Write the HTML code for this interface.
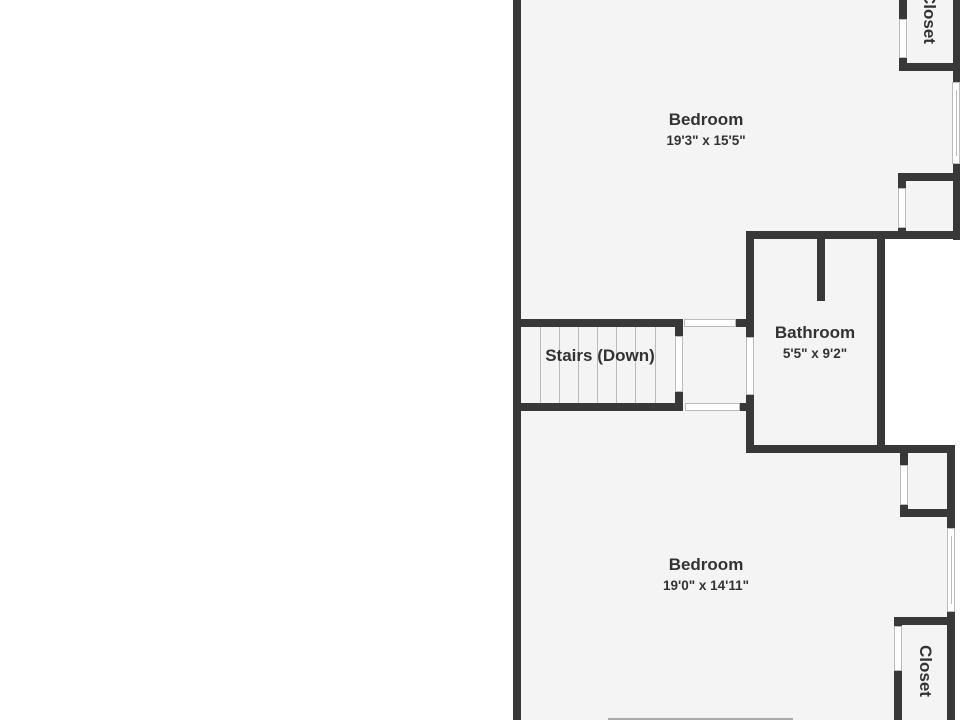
<!DOCTYPE html>
<html><head><style>
html,body{margin:0;padding:0;width:960px;height:720px;overflow:hidden;background:#fff;position:relative}
div{position:absolute;box-sizing:border-box}
.w{background:#383838}
.f{background:#f4f4f4}
.o{background:#fff;border:1px solid #bbb}
.t{font-family:"Liberation Sans",sans-serif;color:#333;text-align:center;white-space:nowrap}
.n{font-weight:bold;font-size:17px}
.d{font-weight:bold;font-size:13.5px}
.l{background:#bbb;width:1px}
</style></head><body>
<div class="f" style="left:521px;top:0;width:434px;height:720px"></div>
<div style="left:885px;top:239px;width:75px;height:206px;background:#fff"></div>
<div style="left:955px;top:445px;width:5px;height:275px;background:#fff"></div>

<div class="w" style="left:513px;top:0;width:8px;height:720px"></div>

<div class="w" style="left:899px;top:0;width:8px;height:71px"></div>
<div class="o" style="left:899px;top:19px;width:8px;height:39px"></div>
<div class="w" style="left:899px;top:63px;width:61px;height:8px"></div>
<div class="w" style="left:953px;top:0;width:7px;height:240px"></div>
<div class="o" style="left:952px;top:82px;width:8px;height:82px"></div>
<div class="l" style="left:956px;top:90px;height:66px"></div>
<div class="w" style="left:898px;top:173px;width:62px;height:8px"></div>
<div class="w" style="left:898px;top:173px;width:8px;height:66px"></div>
<div class="o" style="left:898px;top:188px;width:8px;height:40px"></div>
<div class="w" style="left:746px;top:231px;width:214px;height:8px"></div>

<div class="w" style="left:746px;top:231px;width:8px;height:222px"></div>
<div class="o" style="left:746px;top:337px;width:8px;height:58px"></div>
<div class="w" style="left:877px;top:231px;width:8px;height:222px"></div>
<div class="w" style="left:746px;top:445px;width:209px;height:8px"></div>
<div class="w" style="left:817px;top:239px;width:8px;height:62px"></div>

<div class="w" style="left:513px;top:319px;width:170px;height:8px"></div>
<div class="w" style="left:513px;top:403px;width:170px;height:8px"></div>
<div class="w" style="left:675px;top:319px;width:8px;height:92px"></div>
<div class="o" style="left:675px;top:336px;width:8px;height:56px"></div>
<div class="l" style="left:540px;top:327px;height:76px"></div>
<div class="l" style="left:559px;top:327px;height:76px"></div>
<div class="l" style="left:578px;top:327px;height:76px"></div>
<div class="l" style="left:597px;top:327px;height:76px"></div>
<div class="l" style="left:616px;top:327px;height:76px"></div>
<div class="l" style="left:635px;top:327px;height:76px"></div>
<div class="l" style="left:655px;top:327px;height:76px"></div>
<div class="o" style="left:684px;top:319px;width:52px;height:8px"></div>
<div class="w" style="left:736px;top:319px;width:18px;height:8px"></div>
<div class="o" style="left:685px;top:403px;width:55px;height:8px"></div>
<div class="w" style="left:740px;top:403px;width:14px;height:8px"></div>

<div class="w" style="left:900px;top:445px;width:8px;height:72px"></div>
<div class="o" style="left:900px;top:465px;width:8px;height:40px"></div>
<div class="w" style="left:900px;top:509px;width:55px;height:8px"></div>
<div class="w" style="left:947px;top:445px;width:8px;height:275px"></div>
<div class="o" style="left:947px;top:528px;width:8px;height:84px"></div>
<div class="l" style="left:951px;top:536px;height:68px"></div>
<div class="w" style="left:894px;top:617px;width:61px;height:8px"></div>
<div class="w" style="left:894px;top:617px;width:8px;height:103px"></div>
<div class="o" style="left:894px;top:626px;width:8px;height:45px"></div>
<div style="left:608px;top:718px;width:185px;height:2px;background:#aaa"></div>

<div class="t n" style="left:606px;top:110px;width:200px">Bedroom</div>
<div class="t d" style="left:606px;top:133px;width:200px">19'3" x 15'5"</div>
<div class="t n" style="left:715px;top:323px;width:200px">Bathroom</div>
<div class="t d" style="left:715px;top:346px;width:200px">5'5" x 9'2"</div>
<div class="t n" style="left:500px;top:346px;width:200px">Stairs (Down)</div>
<div class="t n" style="left:606px;top:555px;width:200px">Bedroom</div>
<div class="t d" style="left:606px;top:578px;width:200px">19'0" x 14'11"</div>
<div class="t n" style="left:879px;top:8px;width:100px;transform:rotate(90deg)">Closet</div>
<div class="t n" style="left:875px;top:661px;width:100px;transform:rotate(90deg)">Closet</div>
</body></html>
